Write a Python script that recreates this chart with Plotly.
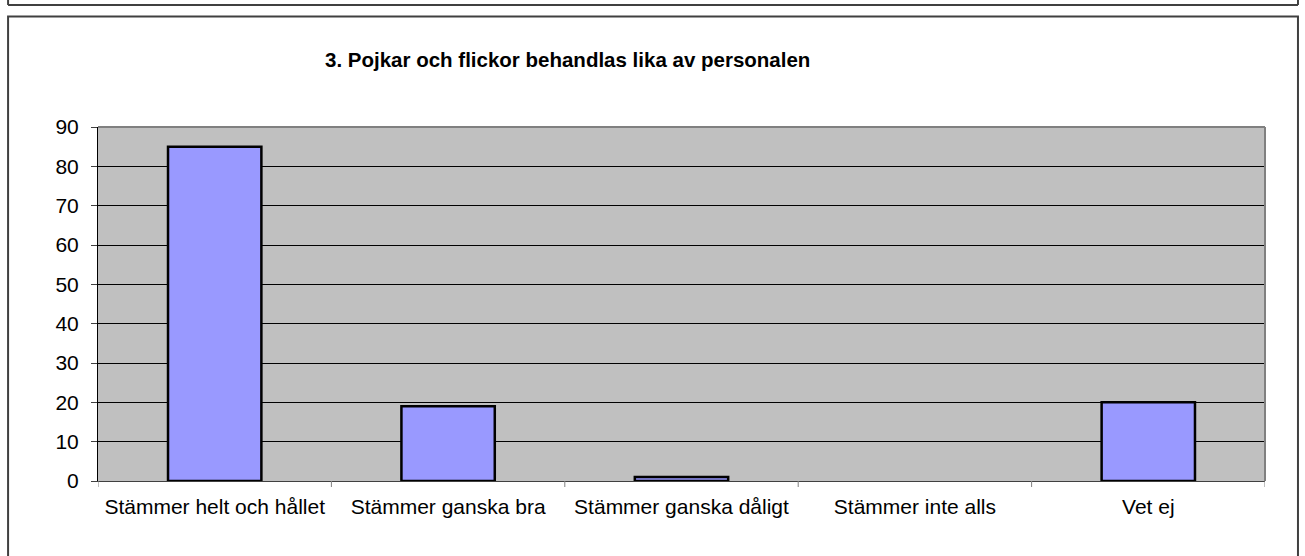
import plotly.graph_objects as go

categories = ["Stämmer helt och hållet", "Stämmer ganska bra", "Stämmer ganska dåligt",
              "Stämmer inte alls", "Vet ej"]
values = [85, 19, 1, 0, 20]
y_ticks = [0, 10, 20, 30, 40, 50, 60, 70, 80, 90]
title_text = "3. Pojkar och flickor behandlas lika av personalen"

W, H = 1305, 556
L, R, T, B = 97.5, 1265.5, 127, 481


def px(x):
    return (x - L) / (R - L)


def py(y):
    return (B - y) / (B - T)


fig = go.Figure()
fig.add_trace(go.Bar(
    x=list(range(len(categories))), y=values, width=0.4,
    marker=dict(color="#9999FF",
                line=dict(color="#000000", width=[2.5 if v > 0 else 0 for v in values])),
    hoverinfo="skip",
))

shapes = []
# category boundary ticks
for i in range(len(categories) + 1):
    shapes.append(dict(type="line", xref="x", yref="paper", x0=i - 0.5, x1=i - 0.5,
                       y0=0, y1=py(B + 6), line=dict(color="#808080", width=1)))
# plot area right/top border
shapes.append(dict(type="line", xref="paper", yref="paper", x0=0, x1=1, y0=1, y1=1,
                   line=dict(color="#808080", width=2)))
shapes.append(dict(type="line", xref="paper", yref="paper", x0=1, x1=1, y0=0, y1=1,
                   line=dict(color="#808080", width=2)))
# outer chart border
shapes.append(dict(type="rect", xref="paper", yref="paper", x0=px(7.5), x1=px(1298.5),
                   y0=py(570), y1=py(16.5), line=dict(color="#404040", width=2),
                   layer="below"))
# previous chart's border remnants
shapes.append(dict(type="line", xref="paper", yref="paper", x0=px(7.5), x1=px(1298.5),
                   y0=py(5), y1=py(5), line=dict(color="#404040", width=2)))
shapes.append(dict(type="line", xref="paper", yref="paper", x0=px(7.5), x1=px(7.5),
                   y0=py(5), y1=py(-10), line=dict(color="#404040", width=2)))
shapes.append(dict(type="line", xref="paper", yref="paper", x0=px(1298.5), x1=px(1298.5),
                   y0=py(5), y1=py(-10), line=dict(color="#404040", width=2)))

fig.update_layout(
    width=W, height=H,
    margin=dict(l=L, r=W - R, t=T, b=H - B, pad=0),
    paper_bgcolor="#FFFFFF",
    plot_bgcolor="#C0C0C0",
    showlegend=False,
    font=dict(family="Liberation Sans, Arial, sans-serif", size=21, color="#000000"),
    shapes=shapes,
    annotations=[dict(text="<b>" + title_text + "</b>", xref="paper", yref="paper",
                      x=px(567.5), y=py(59), xanchor="center", yanchor="middle",
                      showarrow=False, font=dict(size=20.5))],
    xaxis=dict(
        range=[-0.5, len(categories) - 0.5],
        tickmode="array", tickvals=list(range(len(categories))), ticktext=categories,
        showgrid=False, zeroline=False, ticks="", showline=True,
        linecolor="#404040", linewidth=1, ticklabelstandoff=7,
        tickfont=dict(size=21),
    ),
    yaxis=dict(
        range=[0, 90], tickmode="array", tickvals=y_ticks,
        showgrid=True, gridcolor="#000000", gridwidth=1, zeroline=False,
        showline=True, linecolor="#000000", linewidth=1,
        ticks="outside", ticklen=6, tickcolor="#404040",
        tickfont=dict(size=21), ticklabelstandoff=8,
    ),
)

fig.write_html(
    "out.html",
    config={"displayModeBar": False},
    post_script="document.body.style.margin='0';document.body.style.overflow='hidden';",
)
